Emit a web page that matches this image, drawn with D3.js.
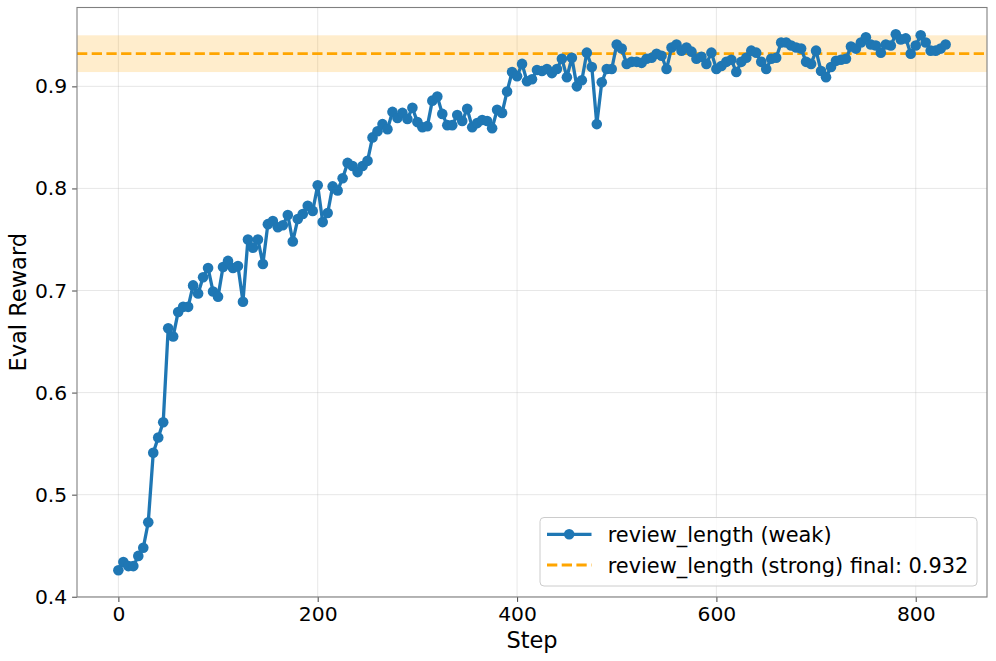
<!DOCTYPE html>
<html>
<head>
<meta charset="utf-8">
<script src="https://cdn.jsdelivr.net/npm/d3@7"></script>
<style>
  html, body { margin: 0; padding: 0; background: #fff; }
  svg { display: block; font-family: "DejaVu Sans", sans-serif; }
</style>
</head>
<body>
<svg id="chart" width="996" height="661"></svg>
<script>
// ---- data ----
const steps = d3.range(0, 835, 5);
const weakReward = [
  0.426, 0.434, 0.430, 0.430, 0.440, 0.448, 0.473, 0.541, 0.556, 0.571,
  0.663, 0.655, 0.679, 0.684, 0.684, 0.705, 0.697, 0.713, 0.722, 0.699,
  0.694, 0.723, 0.729, 0.722, 0.724, 0.689, 0.750, 0.742, 0.750, 0.726,
  0.765, 0.768, 0.762, 0.764, 0.774, 0.748, 0.770, 0.775, 0.783, 0.778,
  0.803, 0.767, 0.776, 0.802, 0.798, 0.810, 0.825, 0.822, 0.816, 0.822,
  0.827, 0.850, 0.856, 0.863, 0.858, 0.875, 0.869, 0.874, 0.868, 0.879,
  0.865, 0.860, 0.861, 0.886, 0.890, 0.873, 0.862, 0.862, 0.872, 0.866,
  0.878, 0.860, 0.864, 0.867, 0.866, 0.859, 0.877, 0.874, 0.895, 0.914,
  0.910, 0.922, 0.905, 0.907, 0.916, 0.915, 0.917, 0.913, 0.917, 0.927,
  0.909, 0.928, 0.900, 0.906, 0.933, 0.919, 0.863, 0.904, 0.917, 0.917,
  0.941, 0.937, 0.922, 0.924, 0.924, 0.923, 0.927, 0.928, 0.932, 0.930,
  0.917, 0.938, 0.941, 0.935, 0.938, 0.934, 0.927, 0.929, 0.922, 0.933,
  0.917, 0.920, 0.924, 0.926, 0.914, 0.924, 0.928, 0.935, 0.933, 0.924,
  0.917, 0.927, 0.928, 0.943, 0.943, 0.940, 0.938, 0.937, 0.924, 0.922,
  0.935, 0.915, 0.909, 0.919, 0.925, 0.926, 0.927, 0.939, 0.937, 0.943,
  0.948, 0.941, 0.940, 0.933, 0.941, 0.940, 0.951, 0.946, 0.947, 0.932,
  0.940, 0.950, 0.943, 0.935, 0.935, 0.937, 0.941
];
const strongFinal = 0.932;
const strongBand = [0.914, 0.950];
const xTicks = [0, 200, 400, 600, 800];
const yTicks = [0.4, 0.5, 0.6, 0.7, 0.8, 0.9];
const legendLabels = ["review_length (weak)", "review_length (strong) final: " + strongFinal.toFixed(3)];
const xLabel = "Step";
const yLabel = "Eval Reward";

// ---- layout ----
const svg = d3.select("#chart");
const L = 77, R = 987, T = 7.5, B = 597;
const blue = "#1f77b4", orange = "#FFA500";
const lineW = 3.3, markR = 5.3;

const xMin = d3.min(steps), xMax = d3.max(steps);
const xPad = (xMax - xMin) * 0.05;
const yMin = d3.min(weakReward), yMax = d3.max(weakReward);
const yPad = (yMax - yMin) * 0.05;

const x = d3.scaleLinear().domain([xMin - xPad, xMax + xPad]).range([L, R]);
const y = d3.scaleLinear().domain([yMin - yPad, yMax + yPad]).range([B, T]);

const clipId = "plotclip";
svg.append("clipPath").attr("id", clipId)
  .append("rect").attr("x", L).attr("y", T).attr("width", R - L).attr("height", B - T);

// grid
const grid = svg.append("g");
grid.selectAll(".vg").data(xTicks).join("line")
  .attr("x1", d => x(d)).attr("x2", d => x(d)).attr("y1", T).attr("y2", B)
  .attr("stroke", "#b0b0b0").attr("stroke-opacity", 0.3).attr("stroke-width", 1);
grid.selectAll(".hg").data(yTicks).join("line")
  .attr("x1", L).attr("x2", R).attr("y1", d => y(d)).attr("y2", d => y(d))
  .attr("stroke", "#b0b0b0").attr("stroke-opacity", 0.3).attr("stroke-width", 1);

const plot = svg.append("g").attr("clip-path", `url(#${clipId})`);

// band
plot.append("rect")
  .attr("x", L).attr("width", R - L)
  .attr("y", y(strongBand[1])).attr("height", y(strongBand[0]) - y(strongBand[1]))
  .attr("fill", orange).attr("fill-opacity", 0.2);

// dashed line
plot.append("line")
  .attr("x1", L).attr("x2", R).attr("y1", y(strongFinal)).attr("y2", y(strongFinal))
  .attr("stroke", orange).attr("stroke-width", 2.8).attr("stroke-dasharray", "10.3,4.4");

// series
const pts = steps.map((s, i) => [s, weakReward[i]]);
plot.append("path").datum(pts)
  .attr("d", d3.line().x(d => x(d[0])).y(d => y(d[1])))
  .attr("fill", "none").attr("stroke", blue).attr("stroke-width", lineW)
  .attr("stroke-linejoin", "round");
plot.selectAll(".pt").data(pts).join("circle")
  .attr("cx", d => x(d[0])).attr("cy", d => y(d[1])).attr("r", markR)
  .attr("fill", blue);

// axes
const xAxis = d3.axisBottom(x).tickValues(xTicks).tickFormat(d3.format("d")).tickSize(4.9).tickPadding(4.9);
const yAxis = d3.axisLeft(y).tickValues(yTicks).tickFormat(d3.format(".1f")).tickSize(4.9).tickPadding(4.9);
const gx = svg.append("g").attr("transform", `translate(0,${B})`).call(xAxis);
const gy = svg.append("g").attr("transform", `translate(${L},0)`).call(yAxis);
[gx, gy].forEach(g => {
  g.select(".domain").remove();
  g.selectAll(".tick line").attr("stroke", "#555").attr("stroke-width", 1.1);
  g.selectAll(".tick text").attr("fill", "#000").style("font-size", "20.3px")
    .style("font-family", "'DejaVu Sans', sans-serif");
});

// frame
svg.append("rect").attr("x", L).attr("y", T).attr("width", R - L).attr("height", B - T)
  .attr("fill", "none").attr("stroke", "#808080").attr("stroke-width", 1.1);

// axis labels
svg.append("text").attr("x", (L + R) / 2).attr("y", 648).attr("text-anchor", "middle")
  .style("font-size", "22.5px").attr("fill", "#000").text(xLabel);
svg.append("text").attr("transform", `translate(26,${(T + B) / 2}) rotate(-90)`)
  .attr("text-anchor", "middle").style("font-size", "22.5px").attr("fill", "#000").text(yLabel);

// legend
const lg = svg.append("g");
lg.append("rect").attr("x", 540).attr("y", 517.5).attr("width", 437).attr("height", 68.5)
  .attr("rx", 4).attr("fill", "#fff").attr("fill-opacity", 0.8)
  .attr("stroke", "#cccccc").attr("stroke-width", 1);
const rowY = [534.3, 565];
lg.append("line").attr("x1", 547).attr("x2", 591.5).attr("y1", rowY[0]).attr("y2", rowY[0])
  .attr("stroke", blue).attr("stroke-width", lineW);
lg.append("circle").attr("cx", 569.2).attr("cy", rowY[0]).attr("r", markR).attr("fill", blue);
lg.append("line").attr("x1", 547).attr("x2", 591.5).attr("y1", rowY[1]).attr("y2", rowY[1])
  .attr("stroke", orange).attr("stroke-width", 2.8).attr("stroke-dasharray", "10.3,4.4");
lg.selectAll(".lt").data(legendLabels).join("text")
  .attr("x", 607.7).attr("y", (d, i) => rowY[i]).attr("dy", "0.36em")
  .style("font-size", "20.9px").attr("fill", "#000").text(d => d);
</script>
</body>
</html>
